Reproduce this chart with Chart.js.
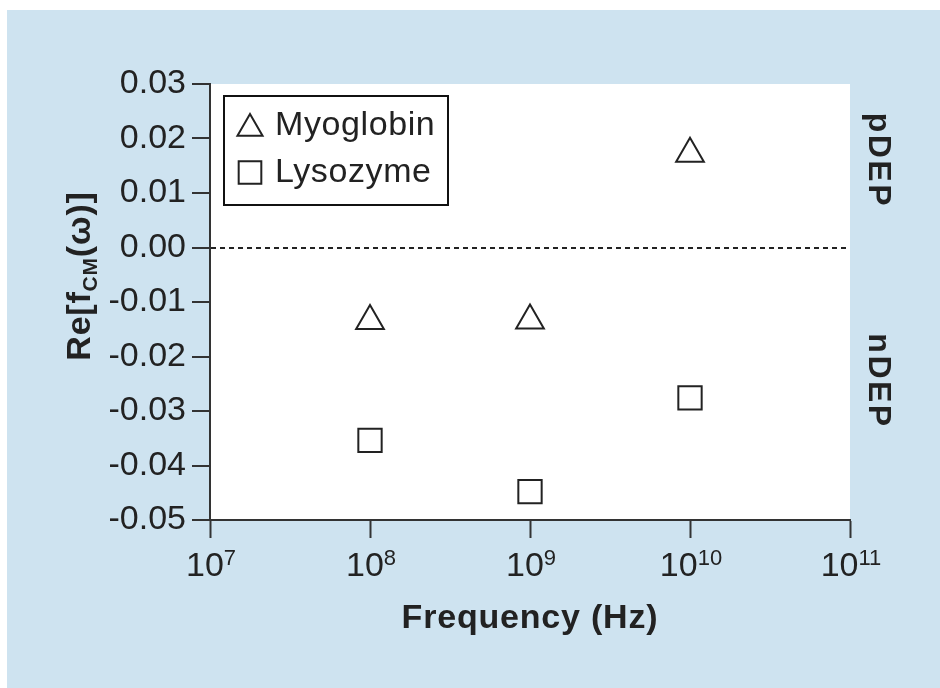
<!DOCTYPE html>
<html lang="en">
<head>
    <meta charset="utf-8"/>
    <title>Re[fCM(ω)] vs frequency</title>
    <script src="https://cdn.jsdelivr.net/npm/chart.js"></script>
    <style>
        html, body {
            margin: 0;
            padding: 0;
            background: #ffffff;
        }
        #wrap {
            width: 940px;
            height: 688px;
        }
    </style>
</head>
<body>
    <div id="wrap"><canvas id="chart" width="940" height="688"></canvas></div>

    <script>
        // data
        const frequencies = [1e8, 1e9, 1e10];
        const myoglobin = [-0.0135, -0.0134, 0.0172];
        const lysozyme = [-0.0354, -0.0448, -0.0276];
        const seriesNames = ['Myoglobin', 'Lysozyme'];
        const xTickExponents = [7, 8, 9, 10, 11];
        const yTicks = [-0.05, -0.04, -0.03, -0.02, -0.01, 0, 0.01, 0.02, 0.03];
        const regionLabels = ['pDEP', 'nDEP'];

        const FONT = '"Liberation Sans", Arial, Helvetica, sans-serif';
        const INK = '#222';
        const BLUE = '#cee3f0';

        const toPoints = (ys) => frequencies.map((f, i) => ({x: f, y: ys[i]}));

        // backgrounds: blue panel + white plot area
        const backdrop = {
            id: 'backdrop',
            beforeDraw(chart) {
                const {ctx, chartArea: a} = chart;
                ctx.save();
                ctx.fillStyle = '#ffffff';
                ctx.fillRect(0, 0, chart.width, chart.height);
                ctx.fillStyle = BLUE;
                ctx.fillRect(7, 10, chart.width - 7, chart.height - 10);
                ctx.fillStyle = '#ffffff';
                ctx.fillRect(a.left, a.top, a.right - a.left, a.bottom - a.top);
                ctx.restore();
            }
        };

        // text the library cannot format (super/subscripts, side labels, boxed legend)
        const annotations = {
            id: 'annotations',
            afterDraw(chart) {
                const {ctx, chartArea: a} = chart;
                const xs = chart.scales.x;
                const ys = chart.scales.y;
                ctx.save();
                ctx.fillStyle = INK;
                ctx.textBaseline = 'alphabetic';
                ctx.textAlign = 'left';

                // x tick labels 10^n
                xTickExponents.forEach(e => {
                    const px = xs.getPixelForValue(Math.pow(10, e));
                    ctx.font = '34px ' + FONT;
                    const w1 = ctx.measureText('10').width;
                    ctx.font = '22px ' + FONT;
                    const w2 = ctx.measureText(String(e)).width;
                    const start = px - (w1 + w2) / 2 + 1;
                    ctx.font = '34px ' + FONT;
                    ctx.fillText('10', start, 576);
                    ctx.font = '22px ' + FONT;
                    ctx.fillText(String(e), start + w1, 565);
                });

                // x title
                ctx.font = 'bold 34px ' + FONT;
                ctx.textAlign = 'center';
                ctx.letterSpacing = '0.8px';
                ctx.fillText('Frequency (Hz)', (a.left + a.right) / 2, 628);

                // y title with subscript
                const parts = [
                    {t: 'Re[f', f: 'bold 34px ' + FONT, dy: 0},
                    {t: 'CM', f: 'bold 21px ' + FONT, dy: 7},
                    {t: '(ω)]', f: 'bold 34px ' + FONT, dy: 0}
                ];
                let total = 0;
                parts.forEach(p => { ctx.font = p.f; p.w = ctx.measureText(p.t).width; total += p.w; });
                ctx.save();
                ctx.translate(90, 276);
                ctx.rotate(-Math.PI / 2);
                ctx.textAlign = 'left';
                let cx = -total / 2;
                parts.forEach(p => {
                    ctx.font = p.f;
                    ctx.fillText(p.t, cx, p.dy);
                    cx += p.w;
                });
                ctx.restore();

                // pDEP / nDEP on the right
                ctx.font = 'bold 32px ' + FONT;
                ctx.letterSpacing = '2.5px';
                ctx.textAlign = 'center';
                [[regionLabels[0], 0.016], [regionLabels[1], -0.0245]].forEach(([txt, v]) => {
                    ctx.save();
                    ctx.translate(a.right + 19, ys.getPixelForValue(v));
                    ctx.rotate(Math.PI / 2);
                    ctx.fillText(txt, 0, 0);
                    ctx.restore();
                });
                ctx.letterSpacing = '0px';

                // legend box
                const lx = a.left + 14, ly = a.top + 12;
                ctx.lineWidth = 2;
                ctx.strokeStyle = '#111';
                ctx.strokeRect(lx, ly, 224, 109);
                ctx.textAlign = 'left';
                chart.data.datasets.forEach((ds, i) => {
                    const iy = ly + 29 + i * 47;
                    ctx.strokeStyle = INK;
                    ctx.fillStyle = 'rgba(0,0,0,0)';
                    ctx.lineWidth = 2;
                    const r = ds.pointStyle === 'triangle' ? 14.5 : 16;
                    const yOff = ds.pointStyle === 'triangle' ? 3.5 : 0.5;
                    Chart.helpers.drawPoint(ctx, {pointStyle: ds.pointStyle, rotation: 0, radius: r, borderWidth: 2}, lx + 26, iy + yOff);
                    ctx.fillStyle = INK;
                    ctx.font = '34px ' + FONT;
                    ctx.letterSpacing = '0.6px';
                    ctx.fillText(ds.label, lx + 51, ly + 39 + i * 47);
                    ctx.letterSpacing = '0px';
                });
                ctx.restore();
            }
        };

        new Chart(document.getElementById('chart'), {
            type: 'scatter',
            data: {
                datasets: [
                    {
                        label: seriesNames[0],
                        data: toPoints(myoglobin),
                        pointStyle: 'triangle',
                        pointRadius: 16,
                        pointBorderWidth: 2,
                        pointBorderColor: INK,
                        pointBackgroundColor: 'rgba(0,0,0,0)',
                        showLine: false
                    },
                    {
                        label: seriesNames[1],
                        data: toPoints(lysozyme),
                        pointStyle: 'rect',
                        pointRadius: 16.5,
                        pointBorderWidth: 2,
                        pointBorderColor: INK,
                        pointBackgroundColor: 'rgba(0,0,0,0)',
                        showLine: false
                    }
                ]
            },
            options: {
                responsive: false,
                devicePixelRatio: 1,
                animation: false,
                events: [],
                layout: {padding: {left: 0, right: 90, top: 84, bottom: 0}},
                plugins: {
                    legend: {display: false},
                    tooltip: {enabled: false}
                },
                scales: {
                    x: {
                        type: 'logarithmic',
                        min: 1e7,
                        max: 1e11,
                        afterBuildTicks: s => { s.ticks = xTickExponents.map(e => ({value: Math.pow(10, e)})); },
                        afterFit: s => { s.height = 168; },
                        ticks: {display: false},
                        grid: {
                            drawOnChartArea: false,
                            tickLength: 18,
                            tickWidth: 2,
                            tickColor: '#333'
                        },
                        border: {color: '#333', width: 2}
                    },
                    y: {
                        min: -0.05,
                        max: 0.03,
                        afterBuildTicks: s => { s.ticks = yTicks.map(v => ({value: v})); },
                        afterFit: s => { s.width = 210; },
                        ticks: {
                            callback: v => v.toFixed(2),
                            font: {family: FONT, size: 34},
                            color: INK,
                            padding: 6
                        },
                        grid: {
                            color: c => (c.tick && c.tick.value === 0) ? '#222' : 'rgba(0,0,0,0)',
                            lineWidth: 2,
                            tickLength: 18,
                            tickWidth: 2,
                            tickColor: '#333'
                        },
                        border: {color: '#333', width: 2, dash: [5, 4]}
                    }
                }
            },
            plugins: [backdrop, annotations]
        });
    </script>
</body>
</html>
